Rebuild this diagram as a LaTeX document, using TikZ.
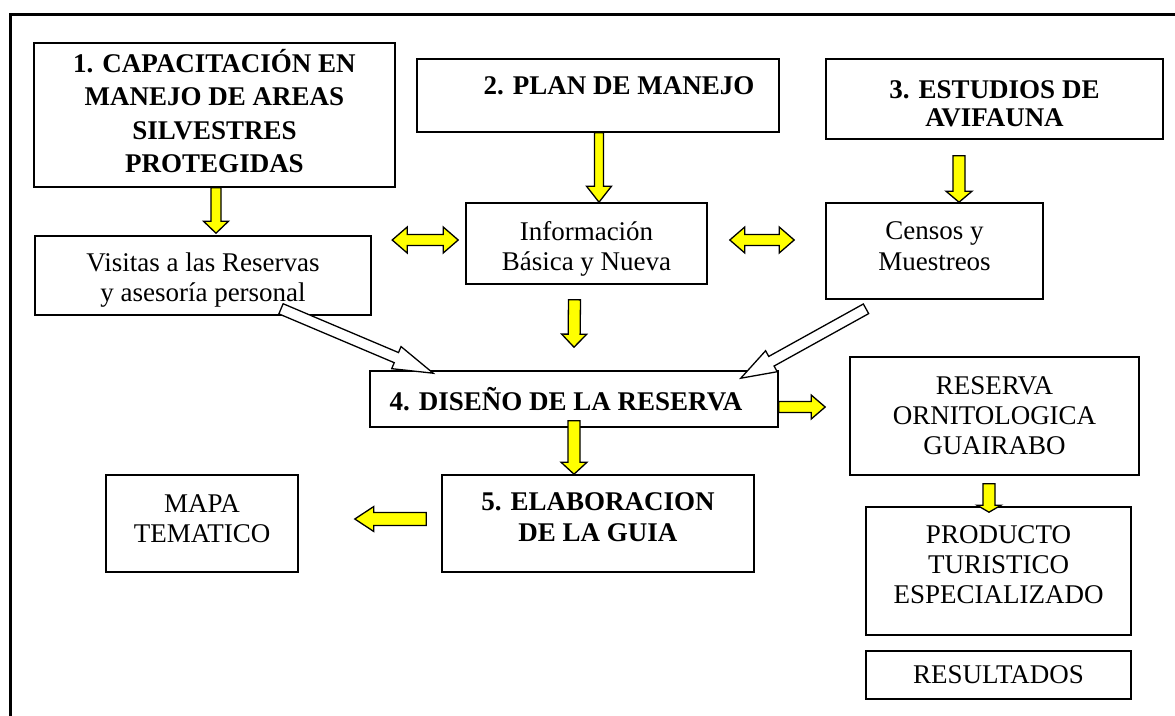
\documentclass[tikz,border=0pt]{standalone}
\usepackage{fontspec}
\setmainfont{Liberation Serif}
\usetikzlibrary{calc}

% block arrow: [style]{tail}{tip}{half shaft}{half head}{head length}
\newcommand{\blockarrow}[6][]{%
  \path (#2) coordinate (ba-s) (#3) coordinate (ba-e);
  \path ($(ba-e)!#6!(ba-s)$) coordinate (ba-h);
  \filldraw[#1] ($(ba-s)!#4!90:(ba-e)$) -- ($(ba-h)!#4!-90:(ba-s)$) -- ($(ba-h)!#5!-90:(ba-s)$) -- (ba-e)
    -- ($(ba-h)!#5!90:(ba-s)$) -- ($(ba-h)!#4!90:(ba-s)$) -- ($(ba-s)!#4!-90:(ba-e)$) -- cycle;
}
% same, with a head at both ends
\newcommand{\dblarrow}[6][]{%
  \path (#2) coordinate (da-s) (#3) coordinate (da-e);
  \path ($(da-s)!#6!(da-e)$) coordinate (da-hs) ($(da-e)!#6!(da-s)$) coordinate (da-he);
  \filldraw[#1] (da-s) -- ($(da-hs)!#5!90:(da-e)$) -- ($(da-hs)!#4!90:(da-e)$) -- ($(da-he)!#4!-90:(da-s)$)
    -- ($(da-he)!#5!-90:(da-s)$) -- (da-e) -- ($(da-he)!#5!90:(da-s)$) -- ($(da-he)!#4!90:(da-s)$)
    -- ($(da-hs)!#4!-90:(da-e)$) -- ($(da-hs)!#5!-90:(da-e)$) -- cycle;
}

\begin{document}
\begin{tikzpicture}[x=1pt,y=-1pt,
    caja/.style={draw=cbox,line width=1.6pt,rectangle,inner sep=0pt,align=center,text=ctext,
      font=\fontsize{27}{30}\selectfont},
    cajab/.style={caja,font=\fontsize{27}{30}\selectfont\bfseries},
    yarrow/.style={draw=cbox,fill=cyel,line width=1.3pt},
    warrow/.style={draw=cbox,fill=white,line width=1.3pt}]
				\definecolor{cbox}{rgb}{0.0,0.0,0.0}
				\definecolor{ctext}{rgb}{0.0,0.0,0.0}
				\definecolor{cyel}{rgb}{1.0,1.0,0.0}
				%
				\useasboundingbox (0,0) rectangle (1175,715);
				\coordinate (fr-bl) at (10.5,716);
				\coordinate (fr-tl) at (10.5,14.5);
				\coordinate (fr-tr) at (1176,14.5);
				\draw[line width=2.5pt,color=cbox] (fr-bl) -- (fr-tl) -- (fr-tr);
				%
				\node[cajab,font=\fontsize{27}{33.5}\selectfont\bfseries,minimum width=361pt,minimum height=144pt,text depth=8pt] (cap) at (214.5,115) {1. CAPACITACIÓN EN\\MANEJO DE AREAS\\SILVESTRES\\PROTEGIDAS};
				\node[caja,minimum width=336pt,minimum height=79pt] (vis) at (203,275.5) {\rule{0pt}{28pt}Visitas a las Reservas\\y asesoría personal};
				\node[cajab,minimum width=362pt,minimum height=73pt,text depth=19pt] (plan) at (598,95.5) {\hspace*{42pt}2. PLAN DE MANEJO};
				\node[caja,minimum width=241pt,minimum height=81pt] (info) at (586.5,243.5) {\rule{0pt}{30pt}Información\\Básica y Nueva};
				\node[cajab,font=\fontsize{27}{28}\selectfont\bfseries,minimum width=337pt,minimum height=80pt] (avi) at (994.5,99) {\rule{0pt}{28pt}3. ESTUDIOS DE\\AVIFAUNA};
				\node[caja,font=\fontsize{27}{31}\selectfont,minimum width=217pt,minimum height=96pt,text depth=9pt] (cen) at (934.5,251) {Censos y\\Muestreos};
				\node[cajab,minimum width=408pt,minimum height=56pt] (dis) at (574,399) {4. DISEÑO DE LA RESERVA\hspace*{16pt}};
				\node[caja,minimum width=289pt,minimum height=118pt] (res) at (994.5,416) {RESERVA\\ORNITOLOGICA\\GUAIRABO};
				\node[caja,minimum width=265pt,minimum height=128pt,text depth=12pt] (prod) at (998.5,571) {PRODUCTO\\TURISTICO\\ESPECIALIZADO};
				\node[caja,minimum width=265pt,minimum height=48pt] (resul) at (998.5,675) {RESULTADOS};
				\node[cajab,font=\fontsize{27}{31}\selectfont\bfseries,minimum width=312pt,minimum height=97pt,text depth=12pt] (gui) at (598,523.5) {5. ELABORACION\\DE LA GUIA};
				\node[caja,minimum width=192pt,minimum height=97pt,text depth=10pt] (mapa) at (202,523.5) {MAPA\\TEMATICO};
				%
				\blockarrow[yarrow]{[xshift=1.5pt]cap.south}{[xshift=13pt,yshift=2pt]vis.north}{5pt}{12.5pt}{12pt}
				\blockarrow[yarrow]{[xshift=1pt]plan.south}{[xshift=12.5pt]info.north}{4.5pt}{12.5pt}{16pt}
				\blockarrow[yarrow]{[xshift=-35.5pt,yshift=-16pt]avi.south}{[xshift=24.5pt]cen.north}{6pt}{13pt}{11pt}
				\blockarrow[yarrow]{[xshift=-12pt,yshift=-15pt]info.south}{[yshift=23pt]dis.north}{6pt}{12.5pt}{13pt}
				\blockarrow[yarrow]{[yshift=7pt]dis.south}{[xshift=-24pt]gui.north}{6pt}{13pt}{12pt}
				\blockarrow[yarrow]{[yshift=-8pt]dis.east}{[xshift=-24pt,yshift=9pt]res.west}{5.5pt}{12pt}{14pt}
				\blockarrow[yarrow]{[xshift=-5.5pt,yshift=-8pt]res.south}{[xshift=-9.5pt,yshift=-6pt]prod.north}{6pt}{12pt}{7pt}
				\blockarrow[yarrow]{[xshift=-15pt,yshift=4.5pt]gui.west}{[xshift=56pt,yshift=4.5pt]mapa.east}{6.5pt}{12.5pt}{19pt}
				%
				\dblarrow[yarrow]{[xshift=-73pt,yshift=3.5pt]info.west}{[xshift=-7pt,yshift=3.5pt]info.west}{5.5pt}{13pt}{15pt}
				\dblarrow[yarrow]{[xshift=22pt,yshift=3.5pt]info.east}{[xshift=-31pt,yshift=11pt]cen.west}{5.5pt}{13pt}{15pt}
				%
				\blockarrow[warrow]{[xshift=78pt,yshift=7pt]vis.south}{[xshift=64pt,yshift=-3pt]dis.north west}{5.5pt}{12pt}{40pt}
				\blockarrow[warrow]{[xshift=-68.5pt,yshift=-9pt]cen.south}{[xshift=-38pt,yshift=-8pt]dis.north east}{5.5pt}{12pt}{35pt}
				%
			\end{tikzpicture}
\end{document}
